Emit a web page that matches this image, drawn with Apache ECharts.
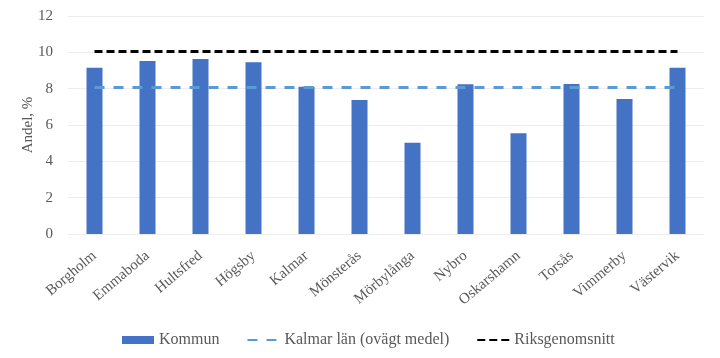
<!DOCTYPE html>
<html><head><meta charset="utf-8">
<script src="https://cdn.jsdelivr.net/npm/echarts@6/dist/echarts.min.js"></script>
<style>html,body{margin:0;padding:0;background:#fff}#c{width:720px;height:358px}</style>
</head><body><div id="c"></div>
<script>
const categories = ['Borgholm','Emmaboda','Hultsfred','Högsby','Kalmar','Mönsterås','Mörbylånga','Nybro','Oskarshamn','Torsås','Vimmerby','Västervik'];
const kommun = [9.15, 9.52, 9.63, 9.45, 8.1, 7.37, 5.02, 8.24, 5.54, 8.26, 7.43, 9.15];
const lanValue = 8.07;
const riksValue = 10.05;
const lan = categories.map(() => lanValue);
const riks = categories.map(() => riksValue);
const font = 'Liberation Serif';
const chart = echarts.init(document.getElementById('c'));
chart.setOption({
  animation: false,
  textStyle: {fontFamily: font},
  grid: {left: 68, right: 16, top: 16, bottom: 124},
  xAxis: {
    type: 'category', data: categories,
    axisLine: {show: false}, axisTick: {show: false},
    axisLabel: {rotate: 40, color: '#595959', fontSize: 15, fontFamily: font, margin: 20}
  },
  yAxis: {
    type: 'value', min: 0, max: 12, interval: 2,
    name: 'Andel, %', nameLocation: 'middle', nameGap: 32, nameRotate: 90, nameMoveOverlap: false,
    nameTextStyle: {color: '#595959', fontSize: 15, fontFamily: font},
    axisLabel: {color: '#595959', fontSize: 15, fontFamily: font, margin: 15},
    axisLine: {show: false}, axisTick: {show: false},
    splitLine: {lineStyle: {color: '#ededed', width: 1}}
  },
  legend: {
    top: 327, left: 117, itemGap: 27, itemWidth: 32, itemHeight: 8,
    textStyle: {color: '#595959', fontSize: 16, fontFamily: font},
    data: [
      {name: 'Kommun', icon: 'rect'},
      {name: 'Kalmar län (ovägt medel)', itemStyle: {opacity: 0}},
      {name: 'Riksgenomsnitt', itemStyle: {opacity: 0}}
    ]
  },
  series: [
    {name: 'Kommun', type: 'bar', data: kommun, barWidth: 16, itemStyle: {color: '#4472C4'}},
    {name: 'Kalmar län (ovägt medel)', type: 'line', data: lan, symbol: 'none',
     lineStyle: {color: '#5B9BD5', width: 3, type: [10, 9]}, itemStyle: {color: '#5B9BD5'}},
    {name: 'Riksgenomsnitt', type: 'line', data: riks, symbol: 'none',
     lineStyle: {color: '#000', width: 3, type: [8, 4]}, itemStyle: {color: '#000'}}
  ]
});
</script></body></html>
